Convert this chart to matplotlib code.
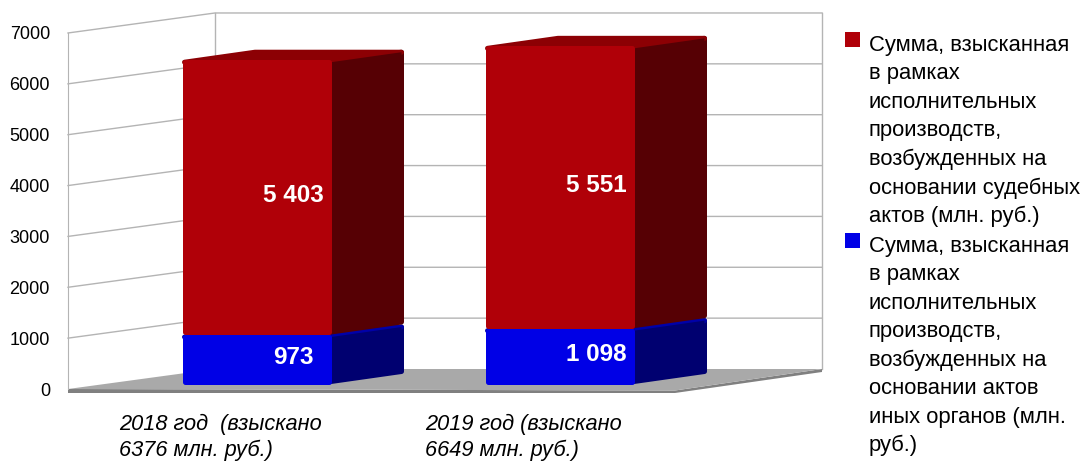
import numpy as np
import matplotlib
matplotlib.use('Agg')
import matplotlib.pyplot as plt
from matplotlib.patches import Polygon, Rectangle

plt.rcParams['font.family'] = ['Liberation Sans', 'DejaVu Sans']

categories = ['2018 год  (взыскано\n6376 млн. руб.)', '2019 год (взыскано\n6649 млн. руб.)']
court_values = [5403, 5551]
other_values = [973, 1098]
court_labels = ['5 403', '5 551']
other_labels = ['973', '1 098']
y_ticks = [0, 1000, 2000, 3000, 4000, 5000, 6000, 7000]
legend_labels = [
    'Сумма, взысканная\nв рамках\nисполнительных\nпроизводств,\nвозбужденных на\nосновании судебных\nактов (млн. руб.)',
    'Сумма, взысканная\nв рамках\nисполнительных\nпроизводств,\nвозбужденных на\nосновании актов\nиных органов (млн.\nруб.)',
]

W, H = 1085, 461
PX_X = 303.0              # pixels per category step
PX_V = 0.05086            # pixels per rouble unit
X0 = 256.5                # pixel x of first category
V0 = 389.0                # pixel y of value 0 on the front plane


def dx(px):
    return px / PX_X


def dv(px):
    return px / PX_V


RED, RED_TOP, RED_SIDE = '#B00008', '#8C0004', '#560004'
BLUE, BLUE_TOP, BLUE_SIDE = '#0000E6', '#0000A8', '#000070'
GRID = '#B4B4B4'

fig = plt.figure(figsize=(W / 100, H / 100), dpi=100)
ax = fig.add_axes([0, 0, 1, 1])
ax.set_xlim(-X0 / PX_X, (W - X0) / PX_X)
ax.set_ylim((V0 - H) / PX_V, V0 / PX_V)
ax.patch.set_visible(False)

left_x = dx(68 - X0)
wall_dx, wall_dv = dx(147), dv(20)
right_x = dx(822 - X0)
top_v = y_ticks[-1]

# walls and gridlines
for v in y_ticks[1:]:
    ax.plot([left_x, left_x + wall_dx, right_x], [v, v + wall_dv, v + wall_dv], color=GRID, lw=1, zorder=1)
ax.plot([left_x + wall_dx] * 2, [wall_dv, top_v + wall_dv], color=GRID, lw=1, zorder=1)
ax.plot([right_x] * 2, [wall_dv, top_v + wall_dv], color=GRID, lw=1, zorder=1)

# floor
floor_right = right_x - wall_dx
ax.add_patch(Polygon([(left_x, dv(-4)), (floor_right, dv(-4)), (right_x, wall_dv - dv(3)), (right_x, wall_dv),
                      (floor_right, dv(-1.5)), (left_x, 0)], closed=True, fc='#808080', ec='none', zorder=2))
ax.add_patch(Polygon([(left_x, 0), (left_x + wall_dx, wall_dv), (right_x, wall_dv), (floor_right, dv(-1.5))],
                     closed=True, fc='#A9A9A9', ec='none', zorder=2))

# bars
bar_w = 149 / PX_X
base = dv(5)
bar_dx, bar_dv = dx(73), dv(10)
r = 2.5                    # corner radius, pixels
lw = 2 * r * 72 / 100


def draw_block(x, bottom, height, front, top, side, z):
    left, right = x - bar_w / 2, x + bar_w / 2
    upper = bottom + height
    far = right + bar_dx - dx(r)
    ax.add_patch(Polygon([(right, bottom + dv(r)), (far, bottom + bar_dv + dv(r)),
                          (far, upper + bar_dv - dv(r)), (right, upper - dv(r))],
                         closed=True, fc=side, ec=side, lw=lw, joinstyle='round', zorder=z))
    ax.add_patch(Polygon([(left + dx(r), upper - dv(r)), (left + bar_dx, upper + bar_dv - dv(r)),
                          (far, upper + bar_dv - dv(r)), (right - dx(r), upper - dv(r))],
                         closed=True, fc=top, ec=top, lw=lw, joinstyle='round', zorder=z + 0.1))
    ax.bar(x, height - dv(2 * r), bar_w - dx(2 * r), bottom=bottom + dv(r), color=front, edgecolor=front, lw=lw,
           joinstyle='round', zorder=z + 0.2)
    # side face sits over the top face along the shared edge
    ax.add_patch(Polygon([(right, upper - dv(r)), (far, upper + bar_dv - dv(r)),
                          (far, bottom + bar_dv + dv(r)), (right, bottom + dv(r))],
                         closed=True, fc=side, ec='none', zorder=z + 0.15))


for i in range(len(categories)):
    draw_block(i, base, other_values[i], BLUE, BLUE_TOP, BLUE_SIDE, 3)
    draw_block(i, base + other_values[i], court_values[i], RED, RED_TOP, RED_SIDE, 4)
    lx = i + dx(37)
    ax.text(lx, base + other_values[i] / 2 + dv(1.5), other_labels[i], color='white', fontsize=17.5, fontweight='bold',
            ha='center', va='center', zorder=6)
    ax.text(lx, base + other_values[i] + court_values[i] / 2 + dv(1.5), court_labels[i], color='white', fontsize=17.5,
            fontweight='bold', ha='center', va='center', zorder=6)
    ax.text(i * 306 / PX_X + dx(119 - 256.5), dv(-25), categories[i], fontsize=15.7, fontstyle='italic', ha='left',
            va='top', linespacing=1.28, color='black')

# value axis
for name in ['top', 'right', 'bottom']:
    ax.spines[name].set_visible(False)
ax.spines['left'].set_position(('data', left_x))
ax.spines['left'].set_bounds(0, top_v)
ax.spines['left'].set_color(GRID)
ax.set_xticks([])
ax.set_yticks(y_ticks)
ax.tick_params(axis='y', length=0, pad=13, labelsize=13, labelcolor='black')

# legend
legend_colors = [RED, BLUE]
legend_tops = [35, 236]
marker_tops = [32, 233]
for label, color, top, m_top in zip(legend_labels, legend_colors, legend_tops, marker_tops):
    fig.add_artist(Rectangle((845 / W, 1 - (m_top + 15) / H), 15 / W, 15 / H, transform=fig.transFigure,
                             fc=color, ec='none'))
    fig.text(869 / W, 1 - top / H, label, fontsize=15.8, ha='left', va='top', linespacing=1.46, color='black')

fig.savefig('out.png', dpi=100)
